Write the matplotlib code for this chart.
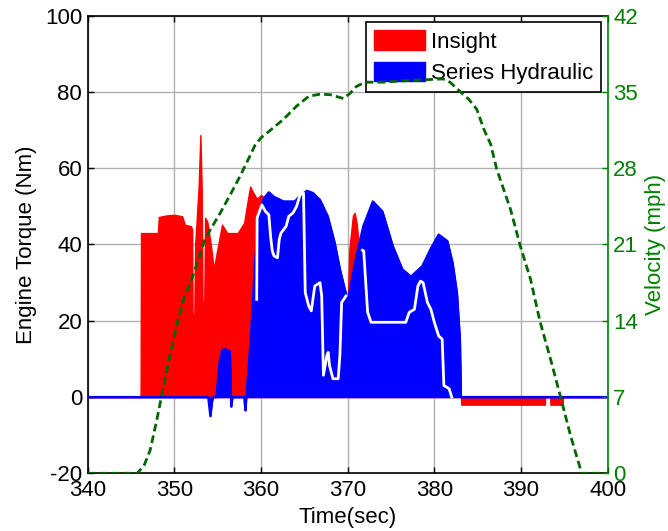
import numpy as np
import matplotlib
matplotlib.use("Agg")
import matplotlib.pyplot as plt
from matplotlib.patches import Patch

plt.rcParams['font.family'] = ['Liberation Sans', 'DejaVu Sans']
plt.rcParams['font.size'] = 16
plt.rcParams['axes.unicode_minus'] = False

# ---------------- data ----------------
# Insight engine torque (Nm)
t_insight = [340, 346.1, 346.15, 347.0, 348.1, 348.2, 349.0, 350.0, 350.9, 351.2, 351.9,
             352.05, 352.1, 352.3, 352.4, 352.8, 353.0, 353.15, 353.25, 353.45, 353.55,
             353.8, 354.2, 354.55, 354.9, 355.5, 356.1, 357.3, 358.05, 358.5, 358.75,
             359.0, 359.5, 360.0, 360.5, 361.0, 363.0, 365.0, 367.0, 368.5, 369.5, 370.0,
             370.2, 370.6, 370.8, 371.0, 371.2, 371.45, 372.0, 375.0, 378.0, 380.0, 382.0,
             382.8, 383.1, 392.75, 392.8, 393.35, 393.4, 394.8, 394.85, 400]
insight = [0, 0, 43, 43, 43, 47.2, 47.6, 47.8, 47.4, 45.2, 44.8,
           44, 21.7, 21.7, 40, 55, 68.7, 55, 25, 25, 47,
           46, 40, 33.5, 38, 45.2, 43, 43, 45.7, 52, 55.2,
           54, 52, 53, 52, 50, 48, 48, 42, 35, 27, 25,
           39, 47.5, 48.3, 46, 42, 38.5, 35, 30, 28, 35, 30,
           20, -2, -2, 0, 0, -2, -2, 0, 0]

# Series hydraulic engine torque (Nm)
t_hydraulic = [340, 353.9, 354.15, 354.35, 354.5, 354.85, 355.2, 355.5, 355.8, 356.4, 356.5,
               356.55, 356.7, 358.05, 358.2, 358.3, 358.8, 359.3, 359.8, 360.3, 360.9,
               361.5, 362.6, 363.9, 364.5, 365.3, 366.0, 366.8, 367.7, 368.5, 369.1,
               370.0, 371.0, 371.8, 372.9, 374.0, 375.2, 376.3, 377.3, 378.6, 379.6,
               380.5, 381.5, 382.1, 382.6, 382.95, 383.05, 400]
hydraulic = [0, 0, -5, -1, 0, 0, 9, 12.2, 12.6, 12, 4,
             -2.5, 0, 0, -3.5, 0, 15, 35, 48, 52, 53.7,
             52.5, 51.3, 51.3, 52.8, 54.1, 53.5, 51.7, 47.4, 40.4, 33.5,
             25.2, 37, 44.8, 51.3, 48.7, 39.6, 33.5, 31.6, 34.3, 39,
             42.6, 40.9, 35.2, 27.4, 15, 0, 0]

# white trace drawn over the hydraulic area (Nm); NaN = gap
t_white = [359.5, 359.55, 360.1, 360.5, 360.9, 361.1, 361.3, 361.5, 361.9, 362.1, 362.3,
           362.6, 362.9, 363.2, 363.7, 364.1, 364.5, 364.9, 365.1, 365.5, 365.8, 366.2,
           366.8, 367.0, 367.2, 367.6, 367.75, 367.9, 368.3, 368.9, 369.1, 369.3, 369.8,
           370.5,
           371.7, 371.85, 372.3, 372.7, 376.7, 377.1, 377.7, 378.1, 378.4, 378.7, 379.2,
           379.6, 380.0, 380.5, 380.9, 381.1, 381.7, 382.0]
white = [25.6, 47, 50.4, 48.7, 47.8, 42.2, 38.3, 37, 36.5, 41.3, 43,
         43.9, 44.8, 47.4, 48.3, 50, 53, 53.5, 27.4, 23.9, 22.6, 29.1,
         30, 26.5, 5.7, 10.9, 11.7, 8.3, 4.8, 4.8, 10.9, 24.8, 26.5,
         np.nan,
         38.5, 38.3, 22.2, 19.6, 19.6, 22.2, 23, 29.1, 30.4, 30, 24.8,
         23, 19.6, 16, 15.2, 3, 2.2, 0]

# Vehicle velocity (mph)
t_vel = [340, 345.7, 346.5, 347.2, 348.0, 348.5, 349.4, 350.4, 351.2, 352.0, 353.0,
         353.5, 354.1, 355.3, 356.4, 357.6, 358.7, 359.3, 360.0, 361.1, 362.6, 364.1,
         365.5, 366.8, 368.0, 369.5, 370.3, 371.0, 372.0, 374.1, 376.0, 378.3, 381.0,
         381.8, 382.9, 384.0, 384.9, 385.7, 386.5, 387.2, 388.8, 389.9, 391.1, 392.2,
         393.4, 394.5, 395.7, 397.0, 400]
velocity = [0, 0, 0.7, 2.1, 5.0, 7.0, 10.5, 14.0, 16.3, 17.8, 20.2,
            21.4, 22.3, 23.9, 25.5, 27.3, 29.1, 30.1, 30.8, 31.5, 32.5, 33.7,
            34.6, 34.8, 34.75, 34.4, 34.9, 35.5, 35.9, 35.9, 36.0, 36.1, 36.2,
            35.9, 35.1, 34.3, 33.4, 31.6, 30.2, 27.9, 24.2, 20.9, 17.8, 13.9,
            10.5, 7.2, 3.5, 0, 0]

x_ticks = [340, 350, 360, 370, 380, 390, 400]
torque_ticks = [-20, 0, 20, 40, 60, 80, 100]
vel_ticks = [0, 7, 14, 21, 28, 35, 42]
labels = ["Insight", "Series Hydraulic"]

green_axis = '#008000'
green_line = '#006600'

# ---------------- figure ----------------
fig = plt.figure(figsize=(6.68, 5.31), dpi=100)
ax1 = fig.add_axes([0.1313, 0.1087, 0.7784, 0.8617])

ax1.fill_between(t_insight, 0, insight, color='#ff0000', linewidth=1.0,
                 edgecolor='#ff0000', zorder=2)
ax1.fill_between(t_hydraulic, 0, hydraulic, color='#0000ff', linewidth=1.0,
                 edgecolor='#0000ff', zorder=3)
ax1.plot(t_hydraulic, hydraulic, color='#0000ff', lw=1.6, zorder=3.5)
ax1.plot(t_white, white, color='white', lw=2.0, zorder=4)

ax1.set_xlim(340, 400)
ax1.set_ylim(-20, 100)
ax1.set_xticks(x_ticks)
ax1.set_yticks(torque_ticks)
ax1.grid(True, color='#b0b0b0', lw=1.0, zorder=0)
ax1.set_axisbelow(True)
ax1.tick_params(direction='in', length=4, width=1, top=True, right=False,
                labelsize=16)
ax1.tick_params(axis='x', pad=5)
ax1.tick_params(axis='y', pad=4)
ax1.set_xlabel('Time(sec)', fontsize=16, labelpad=4)
ax1.set_ylabel('Engine Torque (Nm)', fontsize=16, labelpad=6)
for s in ['left', 'top', 'bottom']:
    ax1.spines[s].set_linewidth(1.2)
ax1.spines['right'].set_visible(False)

handles = [Patch(facecolor='#ff0000', edgecolor='#ff0000'),
           Patch(facecolor='#0000ff', edgecolor='#0000ff')]
leg = ax1.legend(handles, labels, loc='upper right', fontsize=16,
                 frameon=True, fancybox=False, framealpha=1,
                 edgecolor='black', borderpad=0.35, labelspacing=0.4,
                 handlelength=2.3, handleheight=1.0, handletextpad=0.25,
                 borderaxespad=0.3)
leg.get_frame().set_linewidth(1.2)

ax2 = ax1.twinx()
ax2.plot(t_vel, velocity, color=green_line, lw=2.0, dashes=(2.8, 1.5), zorder=5)
ax2.set_ylim(0, 42)
ax2.set_yticks(vel_ticks)
ax2.tick_params(axis='y', direction='in', length=4, width=1, colors=green_axis,
                labelsize=16, pad=4)
ax2.set_ylabel('Velocity (mph)', color=green_axis, fontsize=16, labelpad=5)
ax2.spines['right'].set_color(green_axis)
ax2.spines['right'].set_linewidth(1.2)
ax2.spines['left'].set_visible(False)
ax2.spines['top'].set_visible(False)
ax2.spines['bottom'].set_visible(False)

fig.savefig('out.png', dpi=100)
